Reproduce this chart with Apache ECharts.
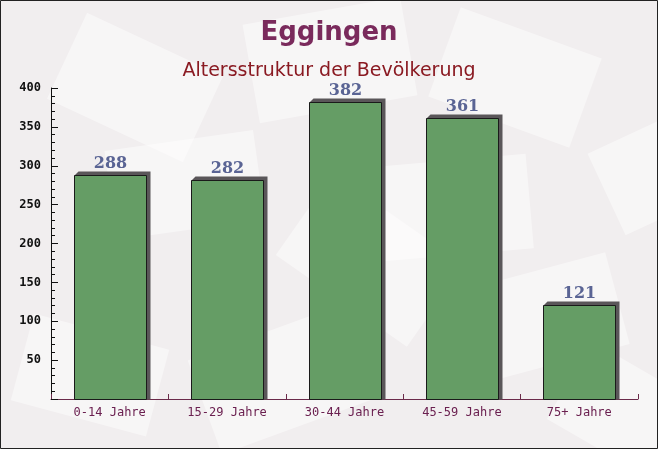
<!DOCTYPE html>
<html>
<head>
<meta charset="utf-8">
<script src="https://cdn.jsdelivr.net/npm/echarts@6/dist/echarts.min.js"></script>
<style>html,body{margin:0;padding:0;background:#f1eeef;}#c{width:658px;height:449px;}</style>
</head>
<body>
<div id="c"></div>
<script>
const categories = ["0-14 Jahre", "15-29 Jahre", "30-44 Jahre", "45-59 Jahre", "75+ Jahre"];
const values = [288, 282, 382, 361, 121];
const titleText = "Eggingen";
const subtitleText = "Altersstruktur der Bevölkerung";

const chart = echarts.init(document.getElementById('c'), null, {renderer: 'canvas'});

const envelopes = [
  [60, 40, 150, 95, -25], [250, 10, 160, 100, 10], [440, 30, 150, 95, -20],
  [600, 120, 140, 90, 25], [110, 140, 150, 90, 8], [290, 210, 160, 100, -35],
  [470, 270, 150, 95, 15], [20, 330, 140, 90, -15], [200, 330, 160, 100, 20],
  [560, 370, 140, 90, -30], [380, 160, 150, 95, 5]
];
const bg = envelopes.map(e => ({
  type: 'rect', z: -10, silent: true,
  x: e[0], y: e[1], rotation: e[4] * Math.PI / 180, originX: e[2] / 2, originY: e[3] / 2,
  shape: {x: 0, y: 0, width: e[2], height: e[3]},
  style: {fill: 'rgba(255,255,255,0.45)'}
}));
bg.push({
  type: 'rect', z: 100, silent: true,
  shape: {x: 0.5, y: 0.5, width: 657, height: 448},
  style: {fill: 'none', stroke: '#222', lineWidth: 1}
});

function renderBar(params, api) {
  const idx = api.value(0);
  const val = api.value(1);
  const top = api.coord([idx, val]);
  const base = api.coord([idx, 0]);
  const w = Math.round(api.size([1, 0])[0] * 0.61);
  const x = Math.round(top[0] - w / 2) + 0.5;
  const y = Math.round(top[1]) + 0.5;
  const b = Math.round(base[1]) + 0.5;
  const d = 4;
  return {
    type: 'group',
    children: [
      {type: 'polygon',
       shape: {points: [[x, y], [x + d, y - d], [x + w + d, y - d], [x + w + d, b], [x + w, b]]},
       style: {fill: '#5a5659'}},
      {type: 'rect', shape: {x: x, y: y, width: w, height: b - y},
       style: {fill: '#659d65', stroke: '#1a1a1a', lineWidth: 1}},
      {type: 'text', x: x + w / 2, y: y - 12,
       style: {text: String(val), align: 'center', verticalAlign: 'middle',
         fontFamily: 'DejaVu Serif', fontWeight: 'bold', fontSize: 16, fill: '#5a6494'}}
    ]
  };
}

chart.setOption({
  backgroundColor: '#f1eeef',
  animation: false,
  graphic: bg,
  title: [
    {text: titleText, left: 'center', top: 15,
     textStyle: {fontFamily: 'DejaVu Sans', fontWeight: 'bold', fontSize: 26, color: '#7a2a5c'}},
    {text: subtitleText, left: 'center', top: 57,
     textStyle: {fontFamily: 'DejaVu Sans', fontWeight: 'normal', fontSize: 19, color: '#8a1a22'}}
  ],
  grid: {left: 51, right: 20, top: 88, bottom: 50},
  xAxis: {
    type: 'category', data: categories,
    axisLine: {lineStyle: {color: '#6b2a4a', width: 1}},
    axisTick: {show: true, inside: true, length: 5, lineStyle: {color: '#6b2a4a'}},
    axisLabel: {fontFamily: 'DejaVu Sans Mono', fontSize: 12, color: '#6b2050', margin: 8}
  },
  yAxis: {
    type: 'value', min: 0, max: 400, interval: 50,
    axisLine: {show: true, lineStyle: {color: '#111', width: 1}},
    axisTick: {show: true, inside: true, length: 7, lineStyle: {color: '#111'}},
    minorTick: {show: true, splitNumber: 5, length: 4, lineStyle: {color: '#111'}},
    splitLine: {show: false},
    axisLabel: {fontFamily: 'DejaVu Sans Mono', fontWeight: 'bold', fontSize: 12, color: '#111', margin: 10,
      formatter: v => v === 0 ? '' : String(v)}
  },
  series: [{
    type: 'custom',
    renderItem: renderBar,
    data: values.map((v, i) => [i, v]),
    encode: {x: 0, y: 1},
    z: 2
  }]
});
</script>
</body>
</html>
